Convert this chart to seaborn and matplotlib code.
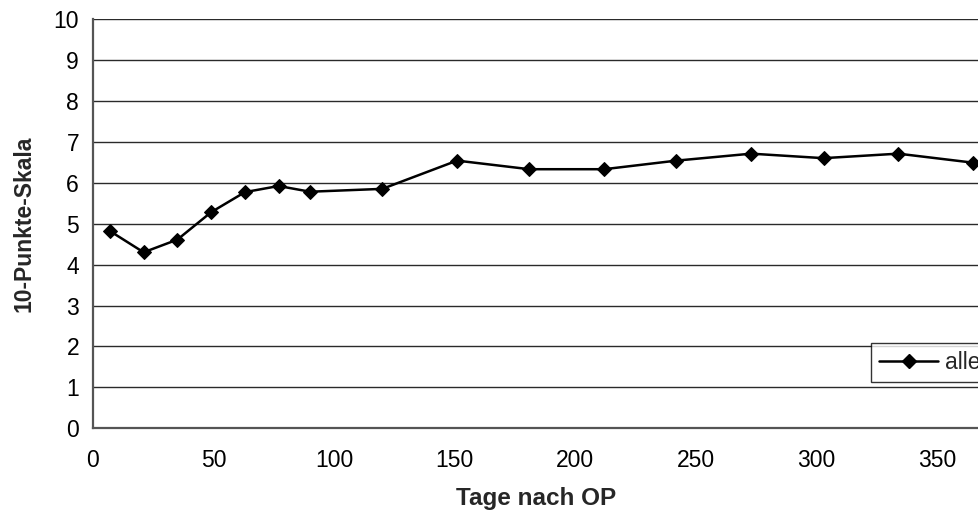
import matplotlib
matplotlib.use("Agg")
import matplotlib.pyplot as plt
import seaborn as sns
import pandas as pd

# Tage nach OP and mean score on the 10-point scale
tage = [7, 21, 35, 49, 63, 77, 90, 120, 151, 181, 212, 242, 273, 303, 334, 365]
skala = [4.82, 4.30, 4.61, 5.28, 5.77, 5.92, 5.78, 5.85, 6.54, 6.33, 6.33, 6.54,
         6.71, 6.60, 6.71, 6.49]
gruppe = ["alle"] * len(tage)

x_ticks = [0, 50, 100, 150, 200, 250, 300, 350]
y_ticks = list(range(0, 11))

df = pd.DataFrame({"Tage": tage, "Wert": skala, "Gruppe": gruppe})

sns.set_style("white")
plt.rcParams["font.family"] = ["Liberation Sans", "DejaVu Sans"]

W, H = 979, 513
fig = plt.figure(figsize=(W / 100, H / 100), dpi=100)
ax = fig.add_axes([93 / W, 1 - 428.3 / H, (979 - 93) / W, (428.3 - 19) / H])

sns.lineplot(data=df, x="Tage", y="Wert", hue="Gruppe", palette=["black"],
             marker="D", markersize=7.5, markeredgecolor="black",
             linewidth=1.8, ax=ax, legend=False, zorder=3)

ax.set_xlim(0, (979 - 93) / 2.411)
ax.set_ylim(0, 10)
ax.set_xticks(x_ticks)
ax.set_yticks(y_ticks)

# horizontal grid lines at every integer
for v in y_ticks[1:]:
    ax.axhline(v, color="#2a2a2a", linewidth=1.0, zorder=1)

for side in ["top", "right"]:
    ax.spines[side].set_visible(False)
for side in ["left", "bottom"]:
    ax.spines[side].set_color("#555555")
    ax.spines[side].set_linewidth(1.6)

ax.tick_params(axis="both", which="major", labelsize=16.5, colors="#555555",
               labelcolor="black", direction="out", length=6, width=1.2)
ax.tick_params(axis="x", pad=9)
ax.tick_params(axis="y", pad=4)

ax.set_xlabel("Tage nach OP", fontsize=17.5, fontweight="bold", labelpad=11)
ax.set_ylabel("10-Punkte-Skala", fontsize=16.5, fontweight="bold", labelpad=13)

handle = plt.Line2D([], [], color="black", linewidth=1.8, marker="D",
                    markersize=7.5)
leg = ax.legend([handle], ["alle"], loc="upper left",
                bbox_to_anchor=(870.7 / W, 1 - 342.7 / H),
                bbox_transform=fig.transFigure, fancybox=False,
                frameon=True, edgecolor="black", fontsize=16.5,
                handlelength=2.6, borderpad=0.35, borderaxespad=0,
                handletextpad=0.3)
leg.get_frame().set_linewidth(1.0)
leg.set_zorder(5)

fig.savefig("out.png", dpi=100)
